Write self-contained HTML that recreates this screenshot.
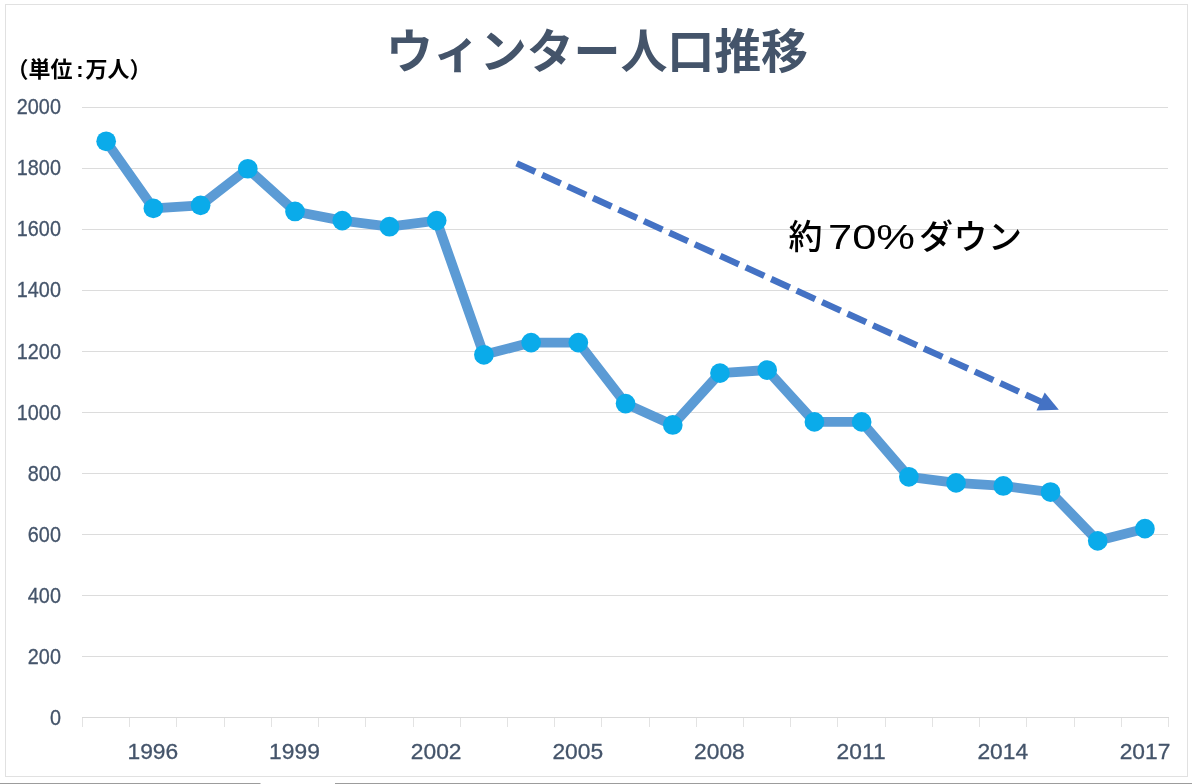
<!DOCTYPE html>
<html lang="ja">
<head>
<meta charset="utf-8">
<title>ウィンター人口推移</title>
<style>
html,body{margin:0;padding:0;background:#fff;}
body{width:1192px;height:784px;overflow:hidden;position:relative;font-family:"Liberation Sans",sans-serif;}
svg{position:absolute;left:0;top:0;display:block;will-change:transform;}
.ax{font-family:"Liberation Sans",sans-serif;fill:#44546a;stroke:#44546a;stroke-width:0.3px;}
.jp{font-family:"Liberation Sans","Noto Sans CJK JP",sans-serif;}
</style>
</head>
<body>
<svg width="1192" height="784" viewBox="0 0 1192 784">
<rect x="0" y="0" width="1192" height="784" fill="#ffffff"/>
<rect x="5.5" y="4.5" width="1182" height="772" fill="none" stroke="#e1e1e1" stroke-width="1"/>
<rect x="0" y="783" width="260.5" height="1" fill="#9c9c9c"/>
<rect x="335" y="783" width="857" height="1" fill="#9c9c9c"/>
<g stroke="#dcdcdc" stroke-width="1" shape-rendering="crispEdges">
<line x1="82.0" y1="656.5" x2="1168.0" y2="656.5"/>
<line x1="82.0" y1="595.5" x2="1168.0" y2="595.5"/>
<line x1="82.0" y1="534.5" x2="1168.0" y2="534.5"/>
<line x1="82.0" y1="473.5" x2="1168.0" y2="473.5"/>
<line x1="82.0" y1="412.5" x2="1168.0" y2="412.5"/>
<line x1="82.0" y1="351.5" x2="1168.0" y2="351.5"/>
<line x1="82.0" y1="290.5" x2="1168.0" y2="290.5"/>
<line x1="82.0" y1="229.5" x2="1168.0" y2="229.5"/>
<line x1="82.0" y1="168.5" x2="1168.0" y2="168.5"/>
<line x1="82.0" y1="107.5" x2="1168.0" y2="107.5"/>
</g>
<g stroke-width="1" shape-rendering="crispEdges">
<line stroke="#e3e3e3" x1="82.5" y1="717.5" x2="82.5" y2="727.0"/>
<line stroke="#e3e3e3" x1="129.5" y1="717.5" x2="129.5" y2="727.0"/>
<line stroke="#e3e3e3" x1="176.5" y1="717.5" x2="176.5" y2="727.0"/>
<line stroke="#e3e3e3" x1="224.5" y1="717.5" x2="224.5" y2="727.0"/>
<line stroke="#e3e3e3" x1="271.5" y1="717.5" x2="271.5" y2="727.0"/>
<line stroke="#e3e3e3" x1="318.5" y1="717.5" x2="318.5" y2="727.0"/>
<line stroke="#e3e3e3" x1="365.5" y1="717.5" x2="365.5" y2="727.0"/>
<line stroke="#e3e3e3" x1="413.5" y1="717.5" x2="413.5" y2="727.0"/>
<line stroke="#e3e3e3" x1="460.5" y1="717.5" x2="460.5" y2="727.0"/>
<line stroke="#e3e3e3" x1="507.5" y1="717.5" x2="507.5" y2="727.0"/>
<line stroke="#e3e3e3" x1="554.5" y1="717.5" x2="554.5" y2="727.0"/>
<line stroke="#e3e3e3" x1="601.5" y1="717.5" x2="601.5" y2="727.0"/>
<line stroke="#e3e3e3" x1="649.5" y1="717.5" x2="649.5" y2="727.0"/>
<line stroke="#e3e3e3" x1="696.5" y1="717.5" x2="696.5" y2="727.0"/>
<line stroke="#e3e3e3" x1="743.5" y1="717.5" x2="743.5" y2="727.0"/>
<line stroke="#e3e3e3" x1="790.5" y1="717.5" x2="790.5" y2="727.0"/>
<line stroke="#e3e3e3" x1="837.5" y1="717.5" x2="837.5" y2="727.0"/>
<line stroke="#e3e3e3" x1="885.5" y1="717.5" x2="885.5" y2="727.0"/>
<line stroke="#e3e3e3" x1="932.5" y1="717.5" x2="932.5" y2="727.0"/>
<line stroke="#e3e3e3" x1="979.5" y1="717.5" x2="979.5" y2="727.0"/>
<line stroke="#e3e3e3" x1="1026.5" y1="717.5" x2="1026.5" y2="727.0"/>
<line stroke="#e3e3e3" x1="1074.5" y1="717.5" x2="1074.5" y2="727.0"/>
<line stroke="#e3e3e3" x1="1121.5" y1="717.5" x2="1121.5" y2="727.0"/>
<line stroke="#e3e3e3" x1="1168.5" y1="717.5" x2="1168.5" y2="727.0"/>
<line stroke="#d9d9d9" x1="82.0" y1="717.5" x2="1168.5" y2="717.5"/>
</g>
<g class="ax" text-anchor="end" font-size="21.6">
<text transform="translate(60.9 724.75) scale(0.917 1)">0</text>
<text transform="translate(60.9 663.75) scale(0.917 1)">200</text>
<text transform="translate(60.9 602.75) scale(0.917 1)">400</text>
<text transform="translate(60.9 541.75) scale(0.917 1)">600</text>
<text transform="translate(60.9 480.75) scale(0.917 1)">800</text>
<text transform="translate(60.9 419.75) scale(0.917 1)">1000</text>
<text transform="translate(60.9 358.75) scale(0.917 1)">1200</text>
<text transform="translate(60.9 296.80) scale(0.917 1)">1400</text>
<text transform="translate(60.9 235.80) scale(0.917 1)">1600</text>
<text transform="translate(60.9 174.80) scale(0.917 1)">1800</text>
<text transform="translate(60.9 113.80) scale(0.917 1)">2000</text>
</g>
<g class="ax" text-anchor="middle" font-size="22.2">
<text transform="translate(152.83 758.7) scale(1.027 1)">1996</text>
<text transform="translate(294.48 758.7) scale(1.027 1)">1999</text>
<text transform="translate(436.13 758.7) scale(1.027 1)">2002</text>
<text transform="translate(577.78 758.7) scale(1.027 1)">2005</text>
<text transform="translate(719.43 758.7) scale(1.027 1)">2008</text>
<text transform="translate(861.09 758.7) scale(1.027 1)">2011</text>
<text transform="translate(1002.74 758.7) scale(1.027 1)">2014</text>
<text transform="translate(1144.99 758.7) scale(1.027 1)">2017</text>
</g>
<polyline points="106.16,141.30 153.38,208.40 200.59,205.35 247.81,168.75 295.03,211.45 342.25,220.60 389.46,226.70 436.68,220.60 483.90,354.80 531.12,342.60 578.33,342.60 625.55,403.60 672.77,424.95 719.98,373.10 767.20,370.05 814.42,421.90 861.64,421.90 908.85,476.80 956.07,482.90 1003.29,485.95 1050.51,492.05 1097.72,540.85 1144.94,528.65" fill="none" stroke="#5b9bd5" stroke-width="9.8" stroke-linejoin="round" stroke-linecap="round"/>
<g fill="#0aabea">
<circle cx="106.16" cy="141.30" r="9.85"/>
<circle cx="153.38" cy="208.40" r="9.85"/>
<circle cx="200.59" cy="205.35" r="9.85"/>
<circle cx="247.81" cy="168.75" r="9.85"/>
<circle cx="295.03" cy="211.45" r="9.85"/>
<circle cx="342.25" cy="220.60" r="9.85"/>
<circle cx="389.46" cy="226.70" r="9.85"/>
<circle cx="436.68" cy="220.60" r="9.85"/>
<circle cx="483.90" cy="354.80" r="9.85"/>
<circle cx="531.12" cy="342.60" r="9.85"/>
<circle cx="578.33" cy="342.60" r="9.85"/>
<circle cx="625.55" cy="403.60" r="9.85"/>
<circle cx="672.77" cy="424.95" r="9.85"/>
<circle cx="719.98" cy="373.10" r="9.85"/>
<circle cx="767.20" cy="370.05" r="9.85"/>
<circle cx="814.42" cy="421.90" r="9.85"/>
<circle cx="861.64" cy="421.90" r="9.85"/>
<circle cx="908.85" cy="476.80" r="9.85"/>
<circle cx="956.07" cy="482.90" r="9.85"/>
<circle cx="1003.29" cy="485.95" r="9.85"/>
<circle cx="1050.51" cy="492.05" r="9.85"/>
<circle cx="1097.72" cy="540.85" r="9.85"/>
<circle cx="1144.94" cy="528.65" r="9.85"/>
</g>
<line x1="516.66" y1="163.30" x2="1042.41" y2="402.35" stroke="#4472c4" stroke-width="6.4" stroke-dasharray="20.4 7.56"/>
<polygon points="1058.8,409.8 1036.5,410.6 1044.7,392.4" fill="#4472c4"/>
<text class="jp" x="386" y="68" font-size="47" font-weight="bold" fill="#44546a" textLength="422" lengthAdjust="spacing">ウィンター人口推移</text>
<text class="jp" x="6.5" y="76.5" font-size="22" font-weight="bold" fill="#000000">（単位</text>
<text class="jp" x="79.85" y="76.5" font-size="22" font-weight="bold" fill="#000000" text-anchor="middle">:</text>
<text class="jp" x="85.5" y="76.5" font-size="22" font-weight="bold" fill="#000000">万人）</text>
<text class="jp" x="788.5" y="249" font-size="34" font-weight="500" fill="#000000">約</text>
<text class="jp" x="828" y="249" font-size="35" font-weight="500" fill="#000000" textLength="87" lengthAdjust="spacingAndGlyphs">70%</text>
<text class="jp" x="919" y="249" font-size="34" font-weight="500" fill="#000000" textLength="103" lengthAdjust="spacing">ダウン</text>
</svg>
</body>
</html>
